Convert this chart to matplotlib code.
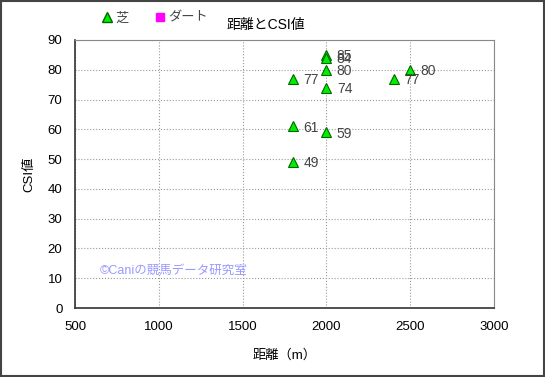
import matplotlib.pyplot as plt
from matplotlib.lines import Line2D

plt.rcParams['font.family'] = ['Liberation Sans', 'Noto Sans CJK JP', 'DejaVu Sans']

# 芝 data
dist = [1800, 1800, 1800, 2000, 2000, 2000, 2000, 2000, 2400, 2500]
csi = [77, 61, 49, 85, 84, 80, 74, 59, 77, 80]

# ダート data (none shown)
dist_dirt = []
csi_dirt = []

xticks = [500, 1000, 1500, 2000, 2500, 3000]
yticks = list(range(0, 91, 10))

fig = plt.figure(figsize=(5.45, 3.77), dpi=100)
ax = fig.add_axes([0.1376, 0.183, 0.769, 0.711])

ax.plot(dist, csi, linestyle='none', marker='^', markersize=7,
        markerfacecolor='#00ee00', markeredgecolor='#006600', markeredgewidth=0.8, zorder=3)
ax.plot(dist_dirt, csi_dirt, linestyle='none', marker='s', markersize=6,
        markerfacecolor='#ff00ff', markeredgecolor='#ff00ff', zorder=3)

for x, y in zip(dist, csi):
    ax.annotate(str(y), (x, y), xytext=(7.5, -1), textcoords='offset points',
                fontsize=10, color='#444444', va='center', ha='left')

ax.set_xlim(500, 3000)
ax.set_ylim(0, 90)
ax.set_xticks(xticks)
ax.set_yticks(yticks)
ax.tick_params(labelsize=9.5, length=0, pad=9, colors='#000000')
ax.grid(True, linestyle=':', color='#999999', linewidth=0.8)

for s in ['top', 'right']:
    ax.spines[s].set_color('#888888')
for s in ['left', 'bottom']:
    ax.spines[s].set_color('#333333')
    ax.spines[s].set_linewidth(1.2)

ax.set_xlabel('距離（m）', fontsize=9.5, labelpad=12)
ax.set_ylabel('CSI値', fontsize=9.5, labelpad=9)

fig.text(0.487, 0.934, '距離とCSI値', fontsize=10, ha='center', va='center')

ax.text(649, 12.5, '©Caniの競馬データ研究室', fontsize=9, color='#9999ff', va='center', ha='left')

# legend across top
handles = [Line2D([], [], linestyle='none', marker='^', markersize=7,
                  markerfacecolor='#00ee00', markeredgecolor='#006600'),
           Line2D([], [], linestyle='none', marker='s', markersize=6,
                  markerfacecolor='#ff00ff', markeredgecolor='#ff00ff')]
fig.legend(handles, ['芝', 'ダート'], loc='center left', bbox_to_anchor=(0.165, 0.950),
           ncol=2, frameon=False, fontsize=9.5, handlelength=0.8, handletextpad=0.2,
           columnspacing=2.0, labelcolor='#444444')

# figure border
fig.patches.append(plt.Rectangle((0.002, 0.003), 0.996, 0.994, transform=fig.transFigure,
                                 fill=False, edgecolor='#444444', linewidth=1.5))

fig.savefig('out.png', dpi=100)
